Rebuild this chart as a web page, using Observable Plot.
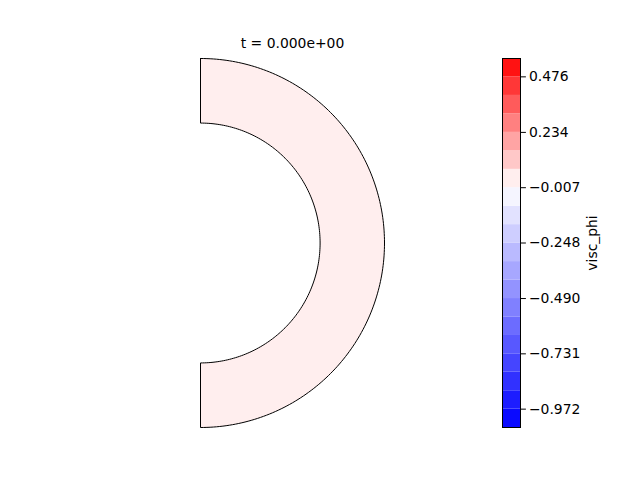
<!DOCTYPE html>
<html>
<head>
<meta charset="utf-8">
<script src="https://cdn.jsdelivr.net/npm/d3@7"></script>
<script src="https://cdn.jsdelivr.net/npm/@observablehq/plot@0.6"></script>
<style>
  html, body { margin: 0; padding: 0; background: white; }
  #wrap { position: relative; width: 640px; height: 480px; }
  #wrap > svg { position: absolute; left: 0; top: 0; }
</style>
</head>
<body>
<div id="wrap"></div>
<script>
// ---- data ----
const titleText = ["t = 0.000e+00"];
const shellRadii = [0.65, 1.0];          // inner, outer (outer = 1)
const fieldValue = [0.02];                // uniform visc_phi value in the shell
const levels = [-1.052, -0.972, -0.892, -0.811, -0.731, -0.651, -0.570, -0.490, -0.409, -0.329,
                -0.248, -0.168, -0.088, -0.007, 0.073, 0.154, 0.234, 0.315, 0.395, 0.476, 0.556];
const bandColors = [
  "rgb(10,10,255)", "rgb(29,29,255)", "rgb(49,49,255)", "rgb(69,69,255)", "rgb(88,88,255)",
  "rgb(108,108,255)", "rgb(128,128,255)", "rgb(147,147,255)", "rgb(167,167,255)", "rgb(186,186,255)",
  "rgb(206,206,255)", "rgb(226,226,255)", "rgb(245,245,255)",
  "rgb(255,238,238)", "rgb(255,200,200)", "rgb(255,164,164)", "rgb(255,128,128)",
  "rgb(255,91,91)", "rgb(255,55,55)", "rgb(255,18,18)"
];
const tickValues = [-0.972, -0.731, -0.490, -0.248, -0.007, 0.234, 0.476];
const barLabel = "visc_phi";

// ---- derived ----
const bands = bandColors.map((c, i) => ({lo: levels[i], hi: levels[i + 1], color: c}));
const fillBand = bands.find(b => fieldValue[0] >= b.lo && fieldValue[0] < b.hi);

const [rIn, rOut] = shellRadii;
const outline = [];
const nSeg = 180;
for (let k = 0; k <= nSeg; k++) {          // outer arc, top -> bottom
  const a = Math.PI / 2 - Math.PI * k / nSeg;
  outline.push({x: rOut * Math.cos(a), y: rOut * Math.sin(a)});
}
for (let k = 0; k <= nSeg; k++) {          // inner arc, bottom -> top
  const a = -Math.PI / 2 + Math.PI * k / nSeg;
  outline.push({x: rIn * Math.cos(a), y: rIn * Math.sin(a)});
}
outline.push(outline[0]);

const font = {fontFamily: "DejaVu Sans", fontSize: "13.9px", color: "black", background: "transparent"};

const main = Plot.plot({
  width: 640, height: 480,
  marginLeft: 200, marginRight: 256, marginTop: 58, marginBottom: 53,
  style: font,
  x: {domain: [0, rOut], axis: null},
  y: {domain: [-rOut, rOut], axis: null},
  marks: [
    Plot.line(outline, {x: "x", y: "y", fill: fillBand.color, stroke: "black", strokeWidth: 1, curve: "linear"}),
    Plot.text(titleText, {text: d => d, frameAnchor: "top", dy: -11, lineAnchor: "bottom", fontSize: 13.9, fill: "black"})
  ]
});

const bar = Plot.plot({
  width: 640, height: 480,
  marginLeft: 502, marginRight: 120, marginTop: 58, marginBottom: 53,
  style: font,
  x: {domain: [0, 1], axis: null},
  y: {domain: [levels[0], levels[levels.length - 1]]},
  marks: [
    Plot.rect(bands, {x1: 0, x2: 1, y1: "lo", y2: "hi", fill: "color"}),
    Plot.frame({stroke: "black", strokeWidth: 1}),
    Plot.axisY({anchor: "right", ticks: tickValues, tickSize: 4.9, tickPadding: 3.5,
      tickFormat: d => d.toFixed(3).replace("-", "\u2212"),
      label: barLabel, labelAnchor: "center", labelArrow: "none", labelOffset: 76,
      fontSize: 13.9})
  ]
});

document.getElementById("wrap").append(main, bar);
</script>
</body>
</html>
